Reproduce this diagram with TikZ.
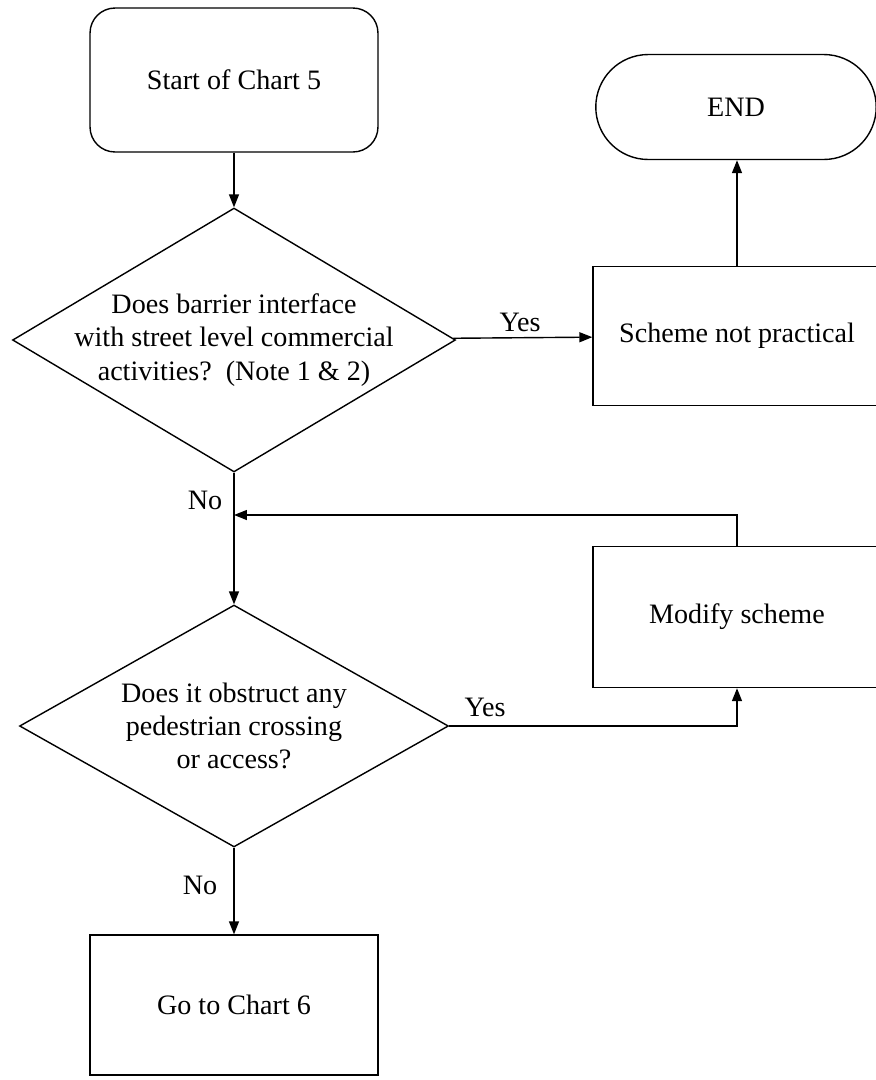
\documentclass[tikz,border=0pt]{standalone}
\usepackage{fontspec}
\setmainfont{Liberation Serif}
\usetikzlibrary{positioning,shapes.geometric,shapes.misc,arrows.meta}

\begin{document}
\begin{tikzpicture}[x=0.02cm, y=-0.02cm, line width=0.8pt,
	>={Triangle[length=2.6mm, width=2mm]}]
	\clip (0, 0) rectangle (876, 1080);
	\begin{scope}
		\tikzstyle{every node}=[align=center, inner sep=1pt, font=\fontsize{16}{19}\selectfont]
		\tikzstyle{box}=[draw, rectangle, minimum width=5.76cm, minimum height=2.8cm]
		\tikzstyle{decision}=[draw, diamond, inner sep=0pt]

		\node (start) [box, rounded corners=0.5cm, minimum height=2.88cm] at (234, 80) {Start of Chart 5};
		\node (q1) [decision, minimum width=8.86cm, minimum height=5.28cm,
			label={[align=center]center:Does barrier interface\\with street level commercial\\activities?~~(Note 1 \& 2)}] at (234, 340) {};
		\node (q2) [decision, minimum width=8.58cm, minimum height=4.84cm,
			label={[align=center]center:Does it obstruct any\\pedestrian crossing\\or access?}] at (234, 726) {};
		\node (go) [box] at (234, 1005) {Go to Chart 6};

		\node (scheme) [box, minimum height=2.78cm] at (737, 336) {Scheme not practical};
		\node (modify) [box, minimum height=2.82cm] at (737, 617) {Modify scheme};
		\node (end) [draw, rounded rectangle, minimum width=5.68cm, minimum height=2.1cm] at (736, 107) {END};

		\node (yes1) at (520, 322) {Yes};
		\node (no1) at (205, 500) {No};
		\node (yes2) at (485, 707) {Yes};
		\node (no2) at (200, 885) {No};

		\coordinate (join) at (234, 515);

		\draw [->] (start) to (q1);
		\draw [->] (q1) to (scheme);
		\draw [->] (scheme.north) to (scheme.north |- end.south);
		\draw [->] (q1) to (q2);
		\draw [->] (modify.north) |- (join);
		\draw [->] (q2.east) -| (modify.south);
		\draw [->] (q2) to (go);
	\end{scope}
\end{tikzpicture}
\end{document}
